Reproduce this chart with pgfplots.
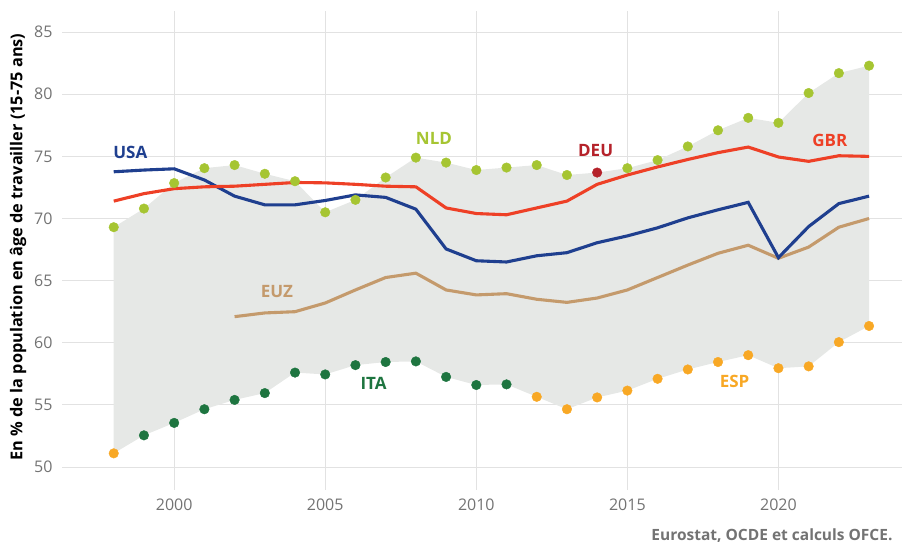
\documentclass[border=0pt]{standalone}
\usepackage{pgfplots}
\pgfplotsset{compat=1.18}
\usepgfplotslibrary{fillbetween}
\usepackage{fontspec}
\setmainfont{Open Sans}
\definecolor{cUSA}{HTML}{1F3F8F}
\definecolor{cGBR}{HTML}{EE4026}
\definecolor{cEUZ}{HTML}{C49A6C}
\definecolor{cNLD}{HTML}{A6C532}
\definecolor{cDEU}{HTML}{B5222A}
\definecolor{cITA}{HTML}{1E7540}
\definecolor{cESP}{HTML}{F8A825}
\definecolor{cFill}{HTML}{E6E8E6}
\definecolor{cGrid}{HTML}{E2E2E2}
\definecolor{cTick}{HTML}{737373}
\begin{document}
\begin{tikzpicture}
\begin{axis}[
  scale only axis, width=836pt, height=479pt,
  xmin=1996.42, xmax=2024.09, ymin=48.15, ymax=86.7,
  axis line style={draw=none},
  xtick={2000,2005,...,2020}, ytick={50,55,...,85},
  xticklabel style={/pgf/number format/1000 sep={}},
  /pgf/number format/assume math mode=true,
  ticklabel style={font=\fontsize{16}{17}\selectfont, text=cTick},
  xtick style={draw=none}, ytick style={draw=cGrid, line width=0.8pt},
  tick align=outside, major tick length=4pt,
  ymajorgrids, xmajorgrids, grid style={cGrid, line width=0.9pt},
  xticklabel shift=1.5pt,
  yticklabel shift=6pt,
  clip=false,
  every axis plot/.append style={mark size=4.8pt},
]
\addplot[name path=top, draw=none, forget plot] coordinates {
(1998,69.3)(1999,70.8)(2000,72.85)(2001,74.05)(2002,74.3)(2003,73.6)(2004,73.0)(2005,70.5)(2006,71.5)(2007,73.3)(2008,74.9)(2009,74.5)(2010,73.9)(2011,74.1)(2012,74.3)(2013,73.5)(2014,73.7)(2015,74.05)(2016,74.7)(2017,75.8)(2018,77.1)(2019,78.1)(2020,77.7)(2021,80.1)(2022,81.7)(2023,82.3)};
\addplot[name path=bot, draw=none, forget plot] coordinates {
(1998,51.1)(1999,52.55)(2000,53.55)(2001,54.65)(2002,55.4)(2003,55.95)(2004,57.6)(2005,57.45)(2006,58.2)(2007,58.45)(2008,58.5)(2009,57.25)(2010,56.6)(2011,56.65)(2012,55.65)(2013,54.65)(2014,55.6)(2015,56.15)(2016,57.1)(2017,57.85)(2018,58.45)(2019,59.0)(2020,57.95)(2021,58.1)(2022,60.05)(2023,61.35)};
\addplot[cFill, forget plot] fill between[of=top and bot];
% EUZ
\addplot[cEUZ, line width=3.1pt, mark=none] coordinates {
(2002,62.1)(2003,62.4)(2004,62.5)(2005,63.2)(2006,64.25)(2007,65.25)(2008,65.6)(2009,64.25)(2010,63.85)(2011,63.95)(2012,63.5)(2013,63.25)(2014,63.6)(2015,64.25)(2016,65.25)(2017,66.25)(2018,67.2)(2019,67.85)(2020,66.8)(2021,67.7)(2022,69.3)(2023,70.0)};
% USA
\addplot[cUSA, line width=3.1pt, mark=none] coordinates {
(1998,73.76)(1999,73.9)(2000,74.0)(2001,73.1)(2002,71.8)(2003,71.1)(2004,71.1)(2005,71.45)(2006,71.9)(2007,71.7)(2008,70.75)(2009,67.55)(2010,66.6)(2011,66.5)(2012,67.0)(2013,67.25)(2014,68.05)(2015,68.6)(2016,69.25)(2017,70.05)(2018,70.7)(2019,71.3)(2020,66.85)(2021,69.35)(2022,71.2)(2023,71.8)};
% GBR
\addplot[cGBR, line width=3.1pt, mark=none] coordinates {
(1998,71.4)(1999,72.0)(2000,72.4)(2001,72.55)(2002,72.6)(2003,72.75)(2004,72.9)(2005,72.87)(2006,72.75)(2007,72.6)(2008,72.55)(2009,70.85)(2010,70.4)(2011,70.3)(2012,70.85)(2013,71.4)(2014,72.75)(2015,73.5)(2016,74.15)(2017,74.75)(2018,75.3)(2019,75.75)(2020,74.95)(2021,74.6)(2022,75.05)(2023,75.0)};
% NLD max
\addplot[only marks, mark=*, color=cNLD] coordinates {
(1998,69.3)(1999,70.8)(2000,72.85)(2001,74.05)(2002,74.3)(2003,73.6)(2004,73.0)(2005,70.5)(2006,71.5)(2007,73.3)(2008,74.9)(2009,74.5)(2010,73.9)(2011,74.1)(2012,74.3)(2013,73.5)(2015,74.05)(2016,74.7)(2017,75.8)(2018,77.1)(2019,78.1)(2020,77.7)(2021,80.1)(2022,81.7)(2023,82.3)};
% DEU
\addplot[only marks, mark=*, color=cDEU] coordinates {(2014,73.7)};
% ITA min
\addplot[only marks, mark=*, color=cITA] coordinates {
(1999,52.55)(2000,53.55)(2001,54.65)(2002,55.4)(2003,55.95)(2004,57.6)(2005,57.45)(2006,58.2)(2007,58.45)(2008,58.5)(2009,57.25)(2010,56.6)(2011,56.65)};
% ESP min
\addplot[only marks, mark=*, color=cESP] coordinates {
(1998,51.1)(2012,55.65)(2013,54.65)(2014,55.6)(2015,56.15)(2016,57.1)(2017,57.85)(2018,58.45)(2019,59.0)(2020,57.95)(2021,58.1)(2022,60.05)(2023,61.35)};
\begin{scope}[every node/.style={font=\bfseries\fontsize{17}{18}\selectfont}]
\node[text=cUSA] at (axis cs:1998.55,75.35) {USA};
\node[text=cNLD] at (axis cs:2008.6,76.45) {NLD};
\node[text=cDEU] at (axis cs:2013.95,75.45) {DEU};
\node[text=cGBR] at (axis cs:2021.7,76.25) {GBR};
\node[text=cEUZ] at (axis cs:2003.4,64.1) {EUZ};
\node[text=cITA] at (axis cs:2006.6,56.75) {ITA};
\node[text=cESP] at (axis cs:2018.55,56.9) {ESP};
\end{scope}
\end{axis}
\node[rotate=90, font=\bfseries\fontsize{16.3}{17}\selectfont] at (-48pt,243pt) {En \% de la population en âge de travailler (15-75 ans)};
\node[anchor=base east, font=\bfseries\fontsize{15.5}{16}\selectfont, text=cTick] at (830pt,-50pt) {Eurostat, OCDE et calculs OFCE.};
\pgfresetboundingbox
\path[use as bounding box] (-66pt,-54pt) rectangle (836pt,490pt);
\end{tikzpicture}
\end{document}
